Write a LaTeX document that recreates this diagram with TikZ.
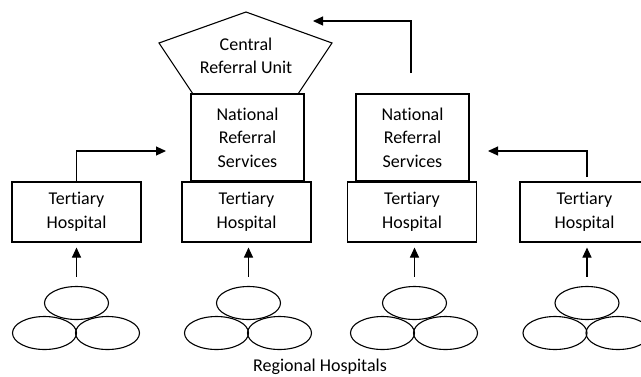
\documentclass[tikz,border=0pt]{standalone}
\usepackage{fontspec}
\setmainfont{Carlito}[Ligatures=CommonOff]
\usetikzlibrary{shapes.geometric,arrows.meta}
\begin{document}
\begin{tikzpicture}[x=1pt,y=-1pt,
  every node/.style={font=\fontsize{18}{23.5}\selectfont},
  line/.style={line width=1.1pt},
  arr/.style={line width=1.1pt,-{Triangle[length=10pt,width=9pt]}},
  boxnode/.style={draw,line width=1.1pt,align=center,inner sep=0pt},
  tert/.style={boxnode,minimum width=129pt,minimum height=60pt},
  natl/.style={boxnode,minimum width=113pt,minimum height=87pt},
  oval/.style={draw,ellipse,line width=1.1pt,minimum width=64pt,minimum height=33pt,inner sep=0pt}]
\useasboundingbox (0,0) rectangle (641,376);
\clip (0,0) rectangle (641,376);
\fill[white] (0,0) rectangle (641,376);

% pentagon
\coordinate (pA) at (246,12);
\coordinate (pB) at (332,43);
\coordinate (pC) at (298,94);
\coordinate (pD) at (193,94);
\coordinate (pE) at (159,43);
\draw[line,line join=miter] (pA) -- (pB) -- (pC) -- (pD) -- (pE) -- cycle;
\node[align=center] (cru) at (246,56) {Central\\Referral Unit};

% national boxes
\node[natl] (n1) at (247.5,137.5) {National\\Referral\\Services};
\node[natl] (n2) at (412.5,137.5) {National\\Referral\\Services};

% tertiary boxes
\node[tert] (t1) at (76.5,212) {Tertiary\\Hospital};
\node[tert] (t2) at (246.5,212) {Tertiary\\Hospital};
\node[tert] (t3) at (412,212) {Tertiary\\Hospital};
\node[tert] (t4) at (584.5,212) {Tertiary\\Hospital};

% ellipse groups
\foreach \i/\x in {1/76.5,2/248.5,3/414.5,4/587} {
  \node[oval] (e\i a) at (\x,303) {};
  \node[oval] (e\i b) at (\x-32,333) {};
  \node[oval] (e\i c) at (\x+31,333) {};
}

% arrows ellipses -> tertiary
\draw[arr] ([yshift=9pt]e1a.north) -- ([yshift=-5pt]e1a.north |- t1.south);
\draw[arr] ([yshift=9pt]e2a.north) -- ([yshift=-5pt]e2a.north |- t2.south);
\draw[arr] ([yshift=9pt]e3a.north) -- ([yshift=-5pt]e3a.north |- t3.south);
\draw[arr] ([yshift=9pt]e4a.north) -- ([yshift=-5pt]e4a.north |- t4.south);

% tertiary -> national
\coordinate (a1) at (166,151);
\draw[arr] (t1.north) |- (a1);
\coordinate (a4s) at (587,177);
\coordinate (a4) at (488,151);
\draw[arr] (a4s) |- (a4);

% national -> central
\coordinate (a2s) at (411,73);
\coordinate (a2) at (313,21);
\draw[arr] (a2s) |- (a2);

\node (rh) at (320,367) {Regional Hospitals};
\end{tikzpicture}
\end{document}
